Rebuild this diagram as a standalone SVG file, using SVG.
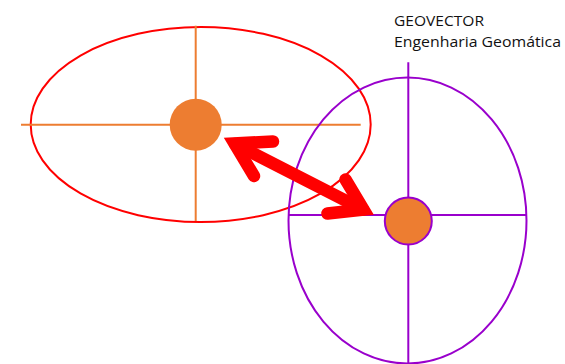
<svg xmlns="http://www.w3.org/2000/svg" width="565" height="364" viewBox="0 0 565 364">
<style>
.ell1{fill:none;stroke:#FF0000;stroke-width:2}
.ell2{fill:none;stroke:#9900CC;stroke-width:2}
.ax1{stroke:#ED7D31;stroke-width:2}
.ax2{stroke:#9900CC;stroke-width:2}
.arrow{fill:none;stroke:#FF0000;stroke-width:12.5;stroke-linecap:round;stroke-linejoin:miter;stroke-miterlimit:4}
.lbl{font-family:"Open Sans","Noto Sans",sans-serif;font-size:15px;fill:#111111}
</style>
<rect width="565" height="364" fill="#FFFFFF"/>
<g id="ellipse-left">
<ellipse class="ell1" cx="200.7" cy="124.5" rx="170" ry="97.5"/>
<line class="ax1" x1="21" y1="124.7" x2="360.7" y2="124.7"/>
<line class="ax1" x1="195.7" y1="25.7" x2="195.7" y2="221"/>
<circle cx="195.7" cy="124.7" r="26" fill="#ED7D31"/>
</g>
<g id="ellipse-right">
<ellipse class="ell2" cx="407.5" cy="220.5" rx="119" ry="143"/>
<line class="ax2" x1="408.3" y1="62.3" x2="408.3" y2="364"/>
<line class="ax2" x1="288.3" y1="215" x2="526.7" y2="215"/>
<circle cx="408.3" cy="221" r="23.5" fill="#ED7D31" stroke="#9900CC" stroke-width="2"/>
</g>
<g id="connectors">
<path class="arrow" d="M235,144 L363,209.5"/>
<path class="arrow" d="M273,141.5 L234.5,143.5 L254,176"/>
<path class="arrow" d="M345.5,179.5 L363.5,209.5 L327.5,213.5"/>
</g>
<g id="label">
<text class="lbl" x="394" y="26" textLength="90" lengthAdjust="spacingAndGlyphs">GEOVECTOR</text>
<text class="lbl" x="394" y="46.5" textLength="167" lengthAdjust="spacingAndGlyphs">Engenharia Geomática</text>
</g>
</svg>
